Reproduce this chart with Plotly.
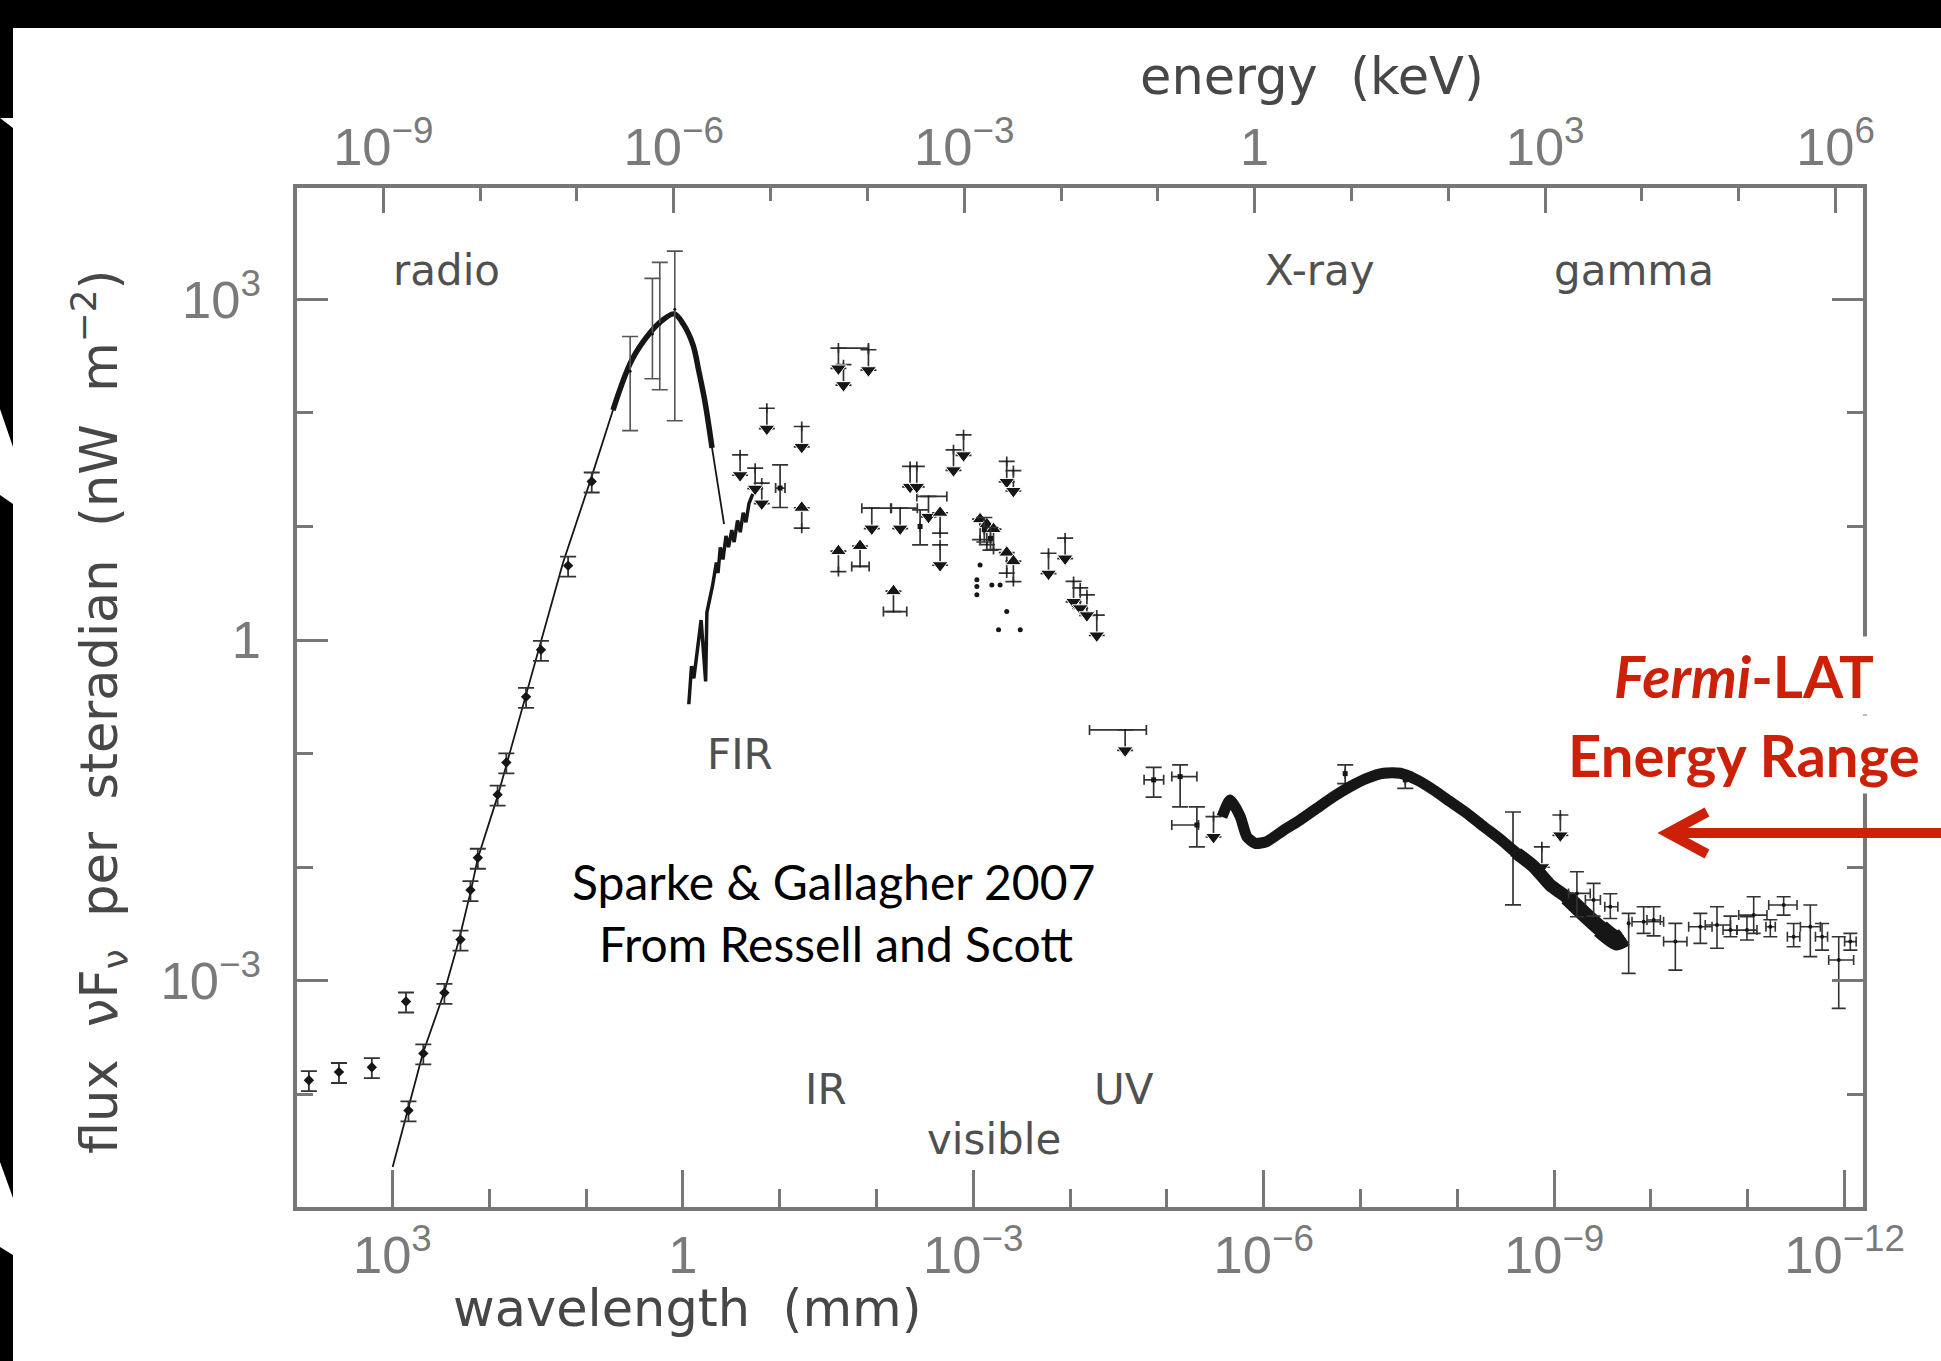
import plotly.graph_objects as go

# ---------------- data (wavelength in mm, flux vF_v in nW m^-2 sr^-1) ----------------
HC_LOG10_KEV_MM = -5.9066       # log10(h*c) in keV*mm, converts wavelength -> photon energy
WL_RANGE_LOG = [3.985, -12.19]  # visible wavelength decades (reversed axis)
FLUX_RANGE_LOG = [-4.993, 3.981]

# CMB black-body curve (thin line)
cmb_wl = [993, 690, 483, 293, 205, 154, 131, 81, 65.4, 17.3, 9.1, 5.26, 3.35, 2.18,
          1.63, 1.23, 0.987, 0.785, 0.683, 0.59, 0.499, 0.433, 0.375]
cmb_flux = [2.29e-5, 7.26e-5, 2.31e-4, 7.78e-4, 2.28e-3, 6.28e-3, 1.2e-2, 4.33e-2, 8.26e-2,
            4.78, 24.7, 106, 294, 508, 653, 745, 605, 398, 233, 125, 49.3, 22.8, 10.5]

# dense COBE/FIRAS section near the peak (thick)
firas_wl = [5.26, 3.35, 2.18, 1.63, 1.23, 0.987, 0.785, 0.683, 0.59, 0.499]
firas_flux = [106, 294, 508, 653, 745, 605, 398, 233, 125, 49.3]

# large error bars around the CMB peak
cmbe_wl = [3.5, 2.06, 1.73, 1.21]
cmbe_flux = [233, 495, 605, 818]
cmbe_hi = [471, 1530, 2120, 2660]
cmbe_lo = [69.8, 200, 160, 85.3]

# radio measurements
radio_wl = [8.73, 15.3, 29.2, 41.6, 66.5, 81.8, 131, 156, 198, 290, 479, 682, 723,
            7280, 3560, 1630]
radio_flux = [24.9, 4.52, 0.82, 0.316, 0.0836, 0.0435, 0.0121, 0.00628, 0.0023,
              7.82e-4, 2.29e-4, 7.2e-5, 6.56e-4, 1.33e-4, 1.57e-4, 1.73e-4]

# far-infrared jagged band
fir_wl = [0.867, 0.813, 0.769, 0.71, 0.647, 0.581, 0.564, 0.493, 0.466, 0.45, 0.433,
          0.41, 0.385, 0.358, 0.337, 0.312, 0.295, 0.272, 0.255, 0.238, 0.223, 0.207, 0.189]
fir_flux = [0.272, 0.59, 0.46, 0.806, 1.5, 0.432, 1.75, 3.01, 3.99, 4.81, 3.89, 6.56,
            5.13, 8.26, 6.59, 9.3, 7.29, 11.3, 8.91, 13.2, 10.9, 16.0, 19.4]

# upper limits (value, wavelength extent)
ul_wl = [0.0247, 0.0219, 0.0121, 0.1355, 0.0591, 0.256, 0.179, 0.153, 0.01117, 0.00569,
         0.0029, 0.00449, 0.00383, 0.0016, 0.00126, 4.51e-4, 3.85e-4, 1.67e-4, 1.125e-4,
         9.2e-5, 7.85e-5, 6.7e-5, 5.3e-5, 0.0022, 2.7e-5, 3.3e-6, 1.34e-9, 8.63e-10]
ul_flux = [373, 266, 360, 110, 76, 42.8, 32.6, 24.1, 14.5, 14.5, 18.4, 33.8, 33.8, 47.3,
           64.1, 37.4, 31.1, 5.81, 7.9, 3.28, 2.88, 2.5, 1.66, 6.9, 0.1615, 0.0279,
           0.0151, 0.0288]
ul_wl_max = [0.0247, 0.0219, 0.0121, 0.1355, 0.0591, 0.256, 0.179, 0.153, 0.01416, 0.00712,
             0.00383, 0.00449, 0.00383, 0.0016, 0.00126, 4.51e-4, 3.85e-4, 1.67e-4, 1.125e-4,
             9.2e-5, 7.85e-5, 6.7e-5, 5.3e-5, 0.0022, 6.3e-5, 3.3e-6, 1.34e-9, 8.63e-10]
ul_wl_min = [0.0121, 0.0219, 0.0121, 0.1355, 0.0591, 0.256, 0.179, 0.153, 0.00701, 0.00378,
             0.001875, 0.00449, 0.00383, 0.0016, 0.00126, 4.51e-4, 3.85e-4, 1.67e-4, 1.125e-4,
             9.2e-5, 7.85e-5, 6.7e-5, 5.3e-5, 0.0022, 1.63e-5, 3.3e-6, 1.34e-9, 8.63e-10]

# lower limits
ll_wl = [0.0591, 0.0247, 0.01476, 0.00667, 0.0022, 8.5e-4, 7.24e-4, 6.18e-4, 4.51e-4, 3.85e-4]
ll_flux = [9.66, 4.01, 4.45, 1.78, 8.73, 7.66, 6.93, 6.27, 3.89, 3.27]
ll_wl_max = [0.0591, 0.0247, 0.018, 0.00847, 0.0022, 8.5e-4, 7.24e-4, 6.18e-4, 4.51e-4, 3.85e-4]
ll_wl_min = [0.0591, 0.0247, 0.0119, 0.00486, 0.0022, 8.5e-4, 7.24e-4, 6.18e-4, 4.51e-4, 3.85e-4]

# isolated optical points (no bars)
dot_wl = [8.5e-4, 9.18e-4, 9.18e-4, 9.18e-4, 6.43e-4, 5.28e-4, 4.51e-4, 5.48e-4, 3.27e-4]
dot_flux = [4.59, 3.39, 2.96, 2.5, 3.06, 3.06, 1.78, 1.23, 1.23]

# measurements with error bars (IR / UV / X-ray)
meas_wl = [0.0989, 0.00354, 7.69e-4, 6.64e-4, 1.37e-5, 7.3e-6, 4.9e-6, 2.66e-9, 1.44e-7, 3.45e-8]
meas_flux = [21.8, 10.0, 9.37, 7.85, 0.0587, 0.0627, 0.0235, 0.013, 0.0666, 0.0587]
meas_hi = [34.9, 14.0, 12.0, 9.8, 0.0755, 0.0794, 0.034, 0.0306, 0.0794, 0.0683]
meas_lo = [14.7, 6.9, 7.3, 6.2, 0.0413, 0.034, 0.0151, 0.00465, 0.0545, 0.0493]
meas_wl_max = [0.11, 0.00354, 7.69e-4, 6.64e-4, 1.72e-5, 8.9e-6, 8.9e-6, 2.66e-9, 1.44e-7, 3.45e-8]
meas_wl_min = [0.088, 0.00354, 7.69e-4, 6.64e-4, 1.08e-5, 4.9e-6, 4.72e-6, 2.66e-9, 1.44e-7, 3.45e-8]

# X-ray background hump (dense data band)
xr_wl = [2.7e-6, 2.22e-6, 1.75e-6, 1.49e-6, 1.22e-6, 9.3e-7, 6.2e-7, 4.19e-7, 2.83e-7, 1.9e-7,
         1.28e-7, 8.6e-8, 5.78e-8, 3.88e-8, 2.62e-8, 1.76e-8, 1.19e-8, 7.96e-9, 5.35e-9,
         3.6e-9, 2.42e-9, 1.63e-9, 1.1e-9, 7.36e-10, 4.97e-10, 3.33e-10, 2.25e-10, 1.88e-10]
xr_flux = [0.0277, 0.039, 0.0279, 0.0185, 0.0162, 0.0168, 0.0212, 0.0261, 0.033, 0.0418,
           0.0512, 0.0605, 0.0671, 0.0671, 0.0586, 0.0478, 0.0378, 0.0298, 0.0228,
           0.0176, 0.0132, 0.01014, 0.00697, 0.0054, 0.00392, 0.00288, 0.00224, 0.00242]
# portions of the hump where the band of data points gets wider
xr_tail_start = [2.42e-9, 7.36e-10, 3.33e-10]

# gamma-ray points
g_wl = [5.82e-10, 3.91e-10, 2.63e-10, 1.7e-10, 1.19e-10, 9.38e-11, 5.6e-11, 3.09e-11, 2.08e-11,
        1.51e-11, 1.02e-11, 8.69e-12, 5.85e-12, 4.26e-12, 3.36e-12, 2.26e-12, 1.71e-12,
        1.15e-12, 8.73e-13]
g_flux = [5.87e-3, 5.13e-3, 4.48e-3, 3.2e-3, 3.3e-3, 3.42e-3, 2.21e-3, 2.99e-3, 3.09e-3,
          2.79e-3, 2.79e-3, 3.78e-3, 2.99e-3, 4.64e-3, 2.44e-3, 2.99e-3, 2.44e-3, 1.52e-3, 2.21e-3]
g_hi = [9.12e-3, 7.2e-3, 5.83e-3, 3.92e-3, 4.48e-3, 4.48e-3, 3.2e-3, 3.92e-3, 4.48e-3,
        3.7e-3, 3.66e-3, 5.48e-3, 3.44e-3, 5.48e-3, 3.19e-3, 4.64e-3, 3.19e-3, 2.44e-3, 2.61e-3]
g_lo = [3.66e-3, 3.7e-3, 3.53e-3, 1.16e-3, 2.61e-3, 2.48e-3, 1.24e-3, 2.13e-3, 1.93e-3,
        2.44e-3, 2.28e-3, 2.61e-3, 2.44e-3, 3.78e-3, 1.99e-3, 1.63e-3, 1.86e-3, 5.7e-4, 1.86e-3]
g_wl_max = [7.1e-10, 4.76e-10, 3.0e-10, 1.7e-10, 1.57e-10, 1.1e-10, 7.41e-11, 4.08e-11, 2.75e-11,
            1.8e-11, 1.29e-11, 1.24e-11, 6.5e-12, 6.08e-12, 3.9e-12, 2.86e-12, 2.0e-12,
            1.46e-12, 1.0e-12]
g_wl_min = [4.24e-10, 3.33e-10, 2.2e-10, 1.7e-10, 7.41e-11, 8.0e-11, 4.25e-11, 2.34e-11, 1.51e-11,
            1.3e-11, 8.04e-12, 6.34e-12, 5.2e-12, 3.1e-12, 2.9e-12, 1.78e-12, 1.5e-12,
            8.07e-13, 7.6e-13]

region_labels = ["radio", "X-ray", "gamma", "FIR", "IR", "UV", "visible"]

# ---------------- style ----------------
W, H = 1941, 1361
L_PX, R_PX, T_PX, B_PX = 297, 1863, 188, 1207
INK = "#161616"
BAR = "#333333"
FRAME = "#777777"
RED = "#CC2008"
ARROW = 10 ** 0.18    # length of limit arrows (decades)

def px(x):
    return (x - L_PX) / (R_PX - L_PX)

def py(y):
    return (B_PX - y) / (B_PX - T_PX)

fig = go.Figure()

fig.add_trace(go.Scatter(x=cmb_wl, y=cmb_flux, mode="lines",
                         line=dict(color=INK, width=1.8), hoverinfo="skip"))
fig.add_trace(go.Scatter(x=firas_wl, y=firas_flux, mode="lines",
                         line=dict(color=INK, width=5.5, shape="spline"), hoverinfo="skip"))
fig.add_trace(go.Scatter(
    x=cmbe_wl, y=cmbe_flux, mode="markers", marker=dict(size=3, color=INK),
    error_y=dict(type="data", symmetric=False,
                 array=[h - f for h, f in zip(cmbe_hi, cmbe_flux)],
                 arrayminus=[f - l for f, l in zip(cmbe_flux, cmbe_lo)],
                 color="#555", thickness=1.6, width=8)))
fig.add_trace(go.Scatter(
    x=radio_wl, y=radio_flux, mode="markers",
    marker=dict(symbol="diamond", size=8, color=INK),
    error_y=dict(type="percent", value=20, color=BAR, thickness=1.8, width=8)))
fig.add_trace(go.Scatter(x=fir_wl, y=fir_flux, mode="lines",
                         line=dict(color=INK, width=3.5), hoverinfo="skip"))

def limits(wl, flux, wl_max, wl_min, up):
    tip = [f * ARROW if up else f / ARROW for f in flux]
    if up:
        arr = [t - f for t, f in zip(tip, flux)]
        arrm = [0] * len(flux)
    else:
        arr = [0] * len(flux)
        arrm = [f - t for f, t in zip(flux, tip)]
    fig.add_trace(go.Scatter(
        x=wl, y=flux, mode="markers", marker=dict(size=2, color=INK),
        error_y=dict(type="data", symmetric=False, array=arr, arrayminus=arrm,
                     color=BAR, thickness=1.7, width=8),
        error_x=dict(type="data", symmetric=False,
                     array=[a - w for a, w in zip(wl_max, wl)],
                     arrayminus=[w - b for w, b in zip(wl, wl_min)],
                     color=BAR, thickness=1.7, width=5)))
    fig.add_trace(go.Scatter(
        x=wl, y=tip, mode="markers",
        marker=dict(symbol="triangle-up" if up else "triangle-down", size=14, color=INK,
                    line=dict(width=1, color="white"))))

limits(ul_wl, ul_flux, ul_wl_max, ul_wl_min, up=False)
limits(ll_wl, ll_flux, ll_wl_max, ll_wl_min, up=True)

fig.add_trace(go.Scatter(x=dot_wl, y=dot_flux, mode="markers",
                         marker=dict(size=5, color=INK)))

fig.add_trace(go.Scatter(
    x=meas_wl, y=meas_flux, mode="markers", marker=dict(symbol="square", size=5, color=INK),
    error_y=dict(type="data", symmetric=False,
                 array=[h - f for h, f in zip(meas_hi, meas_flux)],
                 arrayminus=[f - l for f, l in zip(meas_flux, meas_lo)],
                 color=BAR, thickness=1.7, width=8),
    error_x=dict(type="data", symmetric=False,
                 array=[a - w for a, w in zip(meas_wl_max, meas_wl)],
                 arrayminus=[w - b for w, b in zip(meas_wl, meas_wl_min)],
                 color=BAR, thickness=1.7, width=5)))

# X-ray hump, widening towards the gamma-ray end
fig.add_trace(go.Scatter(x=xr_wl, y=xr_flux, mode="lines",
                         line=dict(color=INK, width=11, shape="spline", smoothing=0.6),
                         hoverinfo="skip"))
for start, width in zip(xr_tail_start, [13, 16, 19]):
    sel = [i for i, w in enumerate(xr_wl) if w <= start]
    fig.add_trace(go.Scatter(x=[xr_wl[i] for i in sel], y=[xr_flux[i] for i in sel],
                             mode="lines", hoverinfo="skip",
                             line=dict(color=INK, width=width, shape="spline", smoothing=0.6)))

fig.add_trace(go.Scatter(
    x=g_wl, y=g_flux, mode="markers", marker=dict(size=4, color=INK),
    error_y=dict(type="data", symmetric=False,
                 array=[h - f for h, f in zip(g_hi, g_flux)],
                 arrayminus=[f - l for f, l in zip(g_flux, g_lo)],
                 color=BAR, thickness=1.6, width=7),
    error_x=dict(type="data", symmetric=False,
                 array=[a - w for a, w in zip(g_wl_max, g_wl)],
                 arrayminus=[w - b for w, b in zip(g_wl, g_wl_min)],
                 color=BAR, thickness=1.6, width=5)))

# empty trace to activate the energy axis
fig.add_trace(go.Scatter(x=[], y=[], xaxis="x2", yaxis="y"))

tickfont = dict(family="Liberation Sans, Arial, sans-serif", size=42, color="#7a7a7a")
common = dict(type="log", tickmode="linear", tick0=0, dtick=3, ticks="inside",
              tickwidth=2.5, tickcolor=FRAME, showline=True, linewidth=3.5,
              linecolor=FRAME, showgrid=False, zeroline=False, exponentformat="power",
              showexponent="all", tickfont=tickfont)

energy_range = [HC_LOG10_KEV_MM - WL_RANGE_LOG[0], HC_LOG10_KEV_MM - WL_RANGE_LOG[1]]

fig.update_layout(
    width=W, height=H, showlegend=False,
    paper_bgcolor="white", plot_bgcolor="white",
    margin=dict(l=L_PX, r=W - R_PX, t=T_PX, b=H - B_PX, pad=0),
    xaxis=dict(range=WL_RANGE_LOG, ticklen=37, ticklabelstandoff=1,
               minor=dict(dtick=1, tick0=0, ticks="inside", ticklen=18, tickwidth=2.5,
                          tickcolor=FRAME),
               **common),
    xaxis2=dict(range=energy_range, overlaying="x", side="top", anchor="y", ticklen=25,
                ticklabelstandoff=0,
                minor=dict(dtick=1, tick0=0, ticks="inside", ticklen=13, tickwidth=2.5,
                           tickcolor=FRAME),
                **common),
    yaxis=dict(range=FLUX_RANGE_LOG, ticklen=31, mirror="ticks", ticklabelstandoff=24,
               minor=dict(dtick=1, tick0=0, ticks="inside", ticklen=16, tickwidth=2.5,
                          tickcolor=FRAME),
               **common),
)

title_font = dict(family="DejaVu Sans, sans-serif", size=51, color="#474747")
label_font = dict(family="DejaVu Sans, sans-serif", size=42, color="#505050")
NB = "\u00a0"
ann = []
ann.append(dict(x=px(1312), y=py(77), text=f"energy{NB}{NB}(keV)", font=title_font))
ann.append(dict(x=px(687), y=py(1308), text=f"wavelength{NB}{NB}(mm)", font=title_font))
ann.append(dict(x=px(99), y=py(712), textangle=-90, font=title_font,
                text=f"flux{NB}{NB}νF<sub>ν</sub>{NB}{NB}per{NB}{NB}steradian{NB}{NB}(nW{NB}{NB}m<sup>−2</sup>)"))
label_pos = [(446, 270), (1320, 270), (1634, 270), (740, 755), (826, 1089), (1124, 1089), (994, 1139)]
for name, (lx, ly) in zip(region_labels, label_pos):
    ann.append(dict(x=px(lx), y=py(ly), text=name, font=label_font))
note_font = dict(family="Lato, Open Sans, sans-serif", size=48, color="#000000")
ann.append(dict(x=px(833), y=py(881), text="Sparke &amp; Gallagher 2007", font=note_font))
ann.append(dict(x=px(836), y=py(943), text="From Ressell and Scott", font=note_font))
fermi_font = dict(family="Lato, Open Sans, sans-serif", size=58, color=RED)
ann.append(dict(x=px(1744), y=py(675), text="<b><i>Fermi</i>-LAT</b>", font=fermi_font,
                bgcolor="white", borderpad=4))
ann.append(dict(x=px(1744), y=py(755), text="<b>Energy Range</b>", font=fermi_font,
                bgcolor="white", borderpad=4))
for a in ann:
    a.update(xref="paper", yref="paper", showarrow=False, xanchor="center", yanchor="middle")
fig.update_layout(annotations=ann)

def path(points, close=True):
    s = "M " + " L ".join(f"{px(x):.5f},{py(y):.5f}" for x, y in points)
    return s + (" Z" if close else "")

shapes = [
    dict(type="rect", xref="paper", yref="paper", x0=px(0), x1=px(W), y0=py(0), y1=py(28),
         fillcolor="black", line=dict(width=0)),
    dict(type="rect", xref="paper", yref="paper", x0=px(0), x1=px(13), y0=py(0), y1=py(H),
         fillcolor="black", line=dict(width=0)),
    dict(type="path", xref="paper", yref="paper", path=path([(0, 118), (13, 118), (13, 128)]),
         fillcolor="white", line=dict(width=0)),
    dict(type="path", xref="paper", yref="paper",
         path=path([(0, 409), (13, 447), (13, 504), (0, 495)]),
         fillcolor="white", line=dict(width=0)),
    dict(type="path", xref="paper", yref="paper",
         path=path([(0, 1162), (13, 1198), (13, 1255), (0, 1247)]),
         fillcolor="white", line=dict(width=0)),
    # red arrow
    dict(type="line", xref="paper", yref="paper", x0=px(W + 5), x1=px(1672), y0=py(833), y1=py(833),
         line=dict(color=RED, width=10)),
    dict(type="path", xref="paper", yref="paper",
         path=path([(1707, 812), (1668, 833), (1707, 854)], close=False),
         line=dict(color=RED, width=10)),
]
fig.update_layout(shapes=shapes)

fig.write_html("out.html")
